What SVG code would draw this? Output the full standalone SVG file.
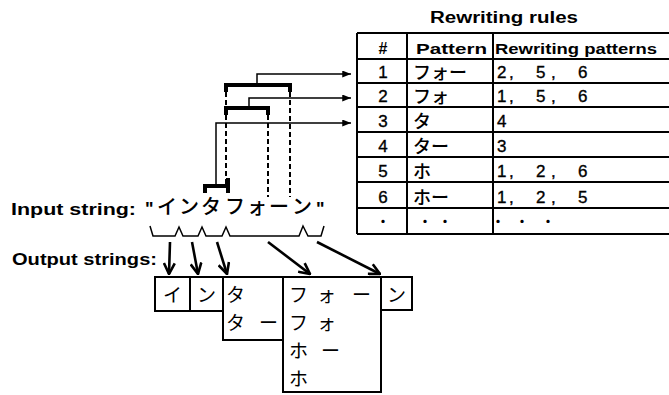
<svg xmlns="http://www.w3.org/2000/svg" width="669" height="395" viewBox="0 0 669 395">
  <style>
    .lbl { font-family: "Liberation Sans", Arial, sans-serif; font-weight: bold; fill: #000; }
    .num { font-family: "Liberation Sans", Arial, sans-serif; font-size: 17px; fill: #000; stroke: #000; stroke-width: 0.35; }
    .jp { font-family: "Noto Sans CJK JP", "Liberation Sans", sans-serif; fill: #000; }
    .jpb { font-weight: 500; }
    .tline { stroke: #000; stroke-width: 2; fill: none; }
    .box { stroke: #000; stroke-width: 2; fill: #fff; }
    .link { stroke: #000; stroke-width: 1.5; fill: none; }
    .brk { stroke: #000; stroke-width: 4; fill: none; stroke-linejoin: miter; }
    .dash { stroke: #000; stroke-width: 2; fill: none; stroke-dasharray: 5 3; }
    .down { stroke: #000; stroke-width: 2.6; fill: none; }
  </style>
  <defs>
    <marker id="tri" viewBox="0 0 10 8" refX="10" refY="4" markerWidth="9" markerHeight="7" markerUnits="userSpaceOnUse" orient="auto">
      <path d="M0,0 L10,4 L0,8 z" fill="#000"/>
    </marker>
    <marker id="vee" viewBox="0 0 12 12" refX="11" refY="6" markerWidth="13" markerHeight="13" markerUnits="userSpaceOnUse" orient="auto">
      <path d="M1,1 L11,6 L1,11" fill="none" stroke="#000" stroke-width="2.4"/>
    </marker>
  </defs>

  <rect width="669" height="395" fill="#fff"/>

  <!-- rule table -->
  <g id="rules-table">
    <text class="lbl" x="430" y="23" font-size="16" textLength="148" lengthAdjust="spacingAndGlyphs">Rewriting rules</text>
    <path class="tline" d="M357,33 V234 M407,33 V234 M493,33 V234"/>
    <path class="tline" d="M357,33 H669 M357,59 H669 M357,83 H669 M357,107 H669 M357,132 H669 M357,157 H669 M357,182 H669 M357,208 H669 M357,234 H669"/>
    <text class="lbl" x="383" y="54" font-size="16" text-anchor="middle">#</text>
    <text class="lbl" x="416" y="54" font-size="14" textLength="71" lengthAdjust="spacingAndGlyphs">Pattern</text>
    <text class="lbl" x="495" y="54" font-size="14" textLength="162" lengthAdjust="spacingAndGlyphs">Rewriting patterns</text>

    <g class="num" text-anchor="middle">
      <text x="383" y="78">1</text>
      <text x="383" y="102">2</text>
      <text x="383" y="127">3</text>
      <text x="383" y="152">4</text>
      <text x="383" y="177">5</text>
      <text x="383" y="203">6</text>
    </g>
    <g class="jp jpb" font-size="18">
      <text x="413" y="79">フォー</text>
      <text x="413" y="103">フォ</text>
      <text x="413" y="128">タ</text>
      <text x="413" y="153">ター</text>
      <text x="413" y="178">ホ</text>
      <text x="413" y="204">ホー</text>
    </g>
    <g class="num">
      <text x="497 509 536 551 578" y="78">2,5,6</text>
      <text x="497 509 536 551 578" y="102">1,5,6</text>
      <text x="497" y="127">4</text>
      <text x="497" y="152">3</text>
      <text x="497 509 536 551 578" y="177">1,2,6</text>
      <text x="497 509 536 551 578" y="203">1,2,5</text>
    </g>
    <text class="jp jpb" font-size="14" text-anchor="middle" x="383 425 445 498 522 548" y="226">・・・・・・</text>
  </g>

  <!-- matched substrings -->
  <g id="match-fo-long">
    <path class="brk" d="M226,92 V85 H290 V92"/>
  </g>
  <g id="match-fo">
    <path class="brk" d="M226,115 V108 H268 V115" stroke-width="5"/>
  </g>
  <g id="match-ta">
    <path class="brk" d="M205,193 V186 H228 V178"/>
    <path class="brk" d="M228,186 V193"/>
  </g>

  <!-- input -->
  <g id="input-string">
    <text class="lbl" x="11" y="215" font-size="16" textLength="125" lengthAdjust="spacingAndGlyphs">Input string:</text>
    <text class="lbl" x="145" y="215" font-size="18">"</text>
    <text class="jp jpb" font-size="20" x="157 179 201 225 247 269 292" y="214">インタフォーン</text>
    <text class="lbl" x="316" y="215" font-size="18">"</text>
    <path class="link" stroke-width="1.8" d="M150,226 L153,236 H175 L179,227 L183,236 H198 L202,227 L206,236 H222 L226,227 L230,236 H299 L303,226 L308,236 H321 L324,226"/>
  </g>

  <!-- output -->
  <text id="output-label" class="lbl" x="12" y="265" font-size="16" textLength="145" lengthAdjust="spacingAndGlyphs">Output strings:</text>
  <g id="out-i">
    <rect class="box" x="155" y="277" width="35" height="34"/>
    <text class="jp" font-size="19" x="163" y="302">イ</text>
  </g>
  <g id="out-n">
    <rect class="box" x="190" y="277" width="33" height="34"/>
    <text class="jp" font-size="19" x="197" y="302">ン</text>
  </g>
  <g id="out-ta">
    <rect class="box" x="223" y="277" width="60" height="63"/>
    <text class="jp" font-size="19" x="226" y="302">タ</text>
    <text class="jp" font-size="19" x="226 259" y="330">ター</text>
  </g>
  <g id="out-fo">
    <rect class="box" x="283" y="277" width="98" height="115"/>
    <text class="jp" font-size="19" x="289 317 352" y="302">フォー</text>
    <text class="jp" font-size="19" x="289 317" y="330">フォ</text>
    <text class="jp" font-size="19" x="289 321" y="358">ホー</text>
    <text class="jp" font-size="19" x="289" y="386">ホ</text>
  </g>
  <g id="out-n2">
    <rect class="box" x="381" y="277" width="31" height="33"/>
    <text class="jp" font-size="19" x="387" y="302">ン</text>
  </g>

  <!-- connectors -->
  <g id="connectors">
    <path class="link" d="M257,85 V74 H351" marker-end="url(#tri)"/>
    <path class="link" d="M249,108 V98 H351" marker-end="url(#tri)"/>
    <path class="link" stroke-width="2" d="M216,186 V123 H351" marker-end="url(#tri)"/>
    <path class="dash" d="M226,92 V106 M226,115 V184"/>
    <path class="dash" d="M268,115 V197"/>
    <path class="dash" d="M290,92 V197"/>
    <path class="down" d="M170,242 L169,274" marker-end="url(#vee)"/>
    <path class="down" d="M192,242 L198,274" marker-end="url(#vee)"/>
    <path class="down" d="M217,242 L227,274" marker-end="url(#vee)"/>
    <path class="down" d="M268,242 L310,274" marker-end="url(#vee)"/>
    <path class="down" d="M317,242 L380,274" marker-end="url(#vee)"/>
  </g>
</svg>
